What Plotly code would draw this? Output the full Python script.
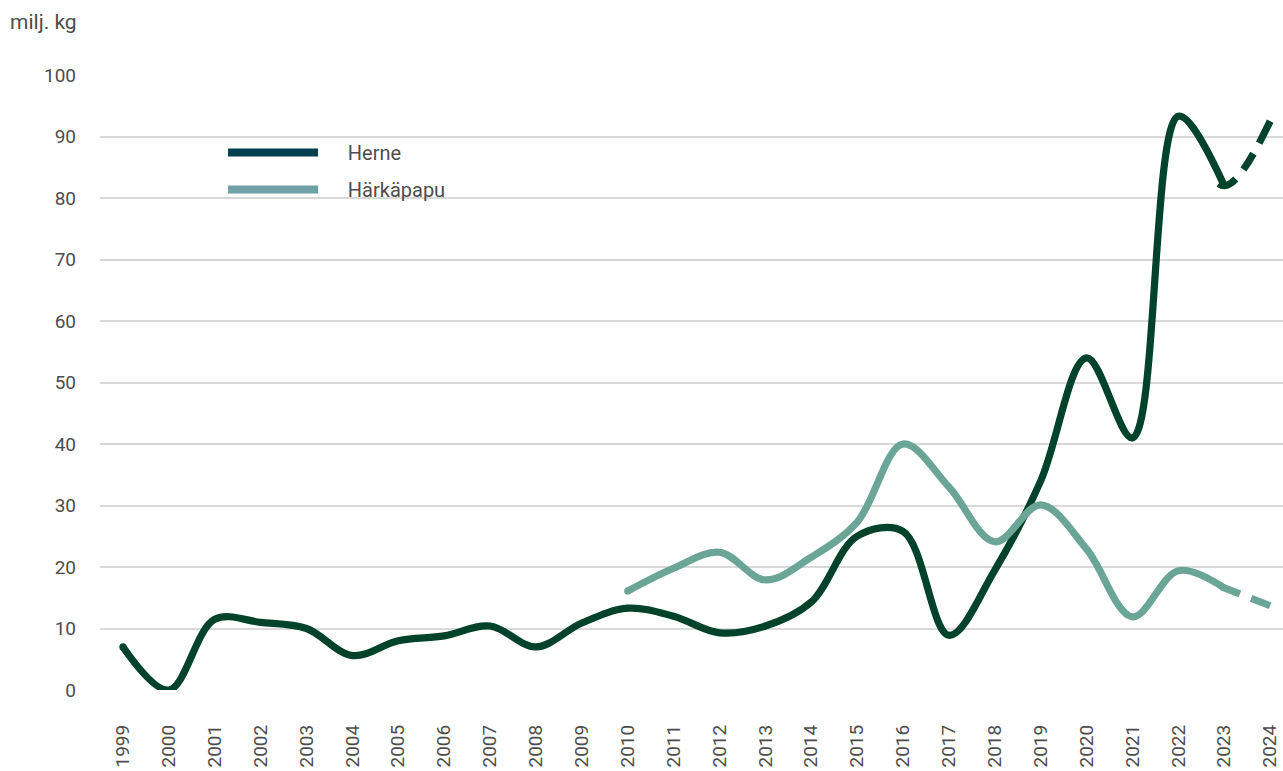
import plotly.graph_objects as go

years = list(range(1999, 2025))
herne = [7.0, 0.0, 11.5, 11.0, 10.0, 5.6, 8.0, 8.8, 10.4, 7.0, 10.9, 13.3, 12.0, 9.3, 10.4, 14.3,
         25.0, 25.8, 8.9, 19.5, 34.0, 54.0, 41.0, 93.3, 82.0, 92.5]
hp_years = list(range(2010, 2025))
harkapapu = [16.1, 19.8, 22.4, 17.9, 21.6, 27.3, 40.0, 33.0, 24.1, 30.1, 22.9, 11.9, 19.4, 16.6, 13.7]
y_ticks = [0, 10, 20, 30, 40, 50, 60, 70, 80, 90, 100]
x_ticks = years
y_title = "milj. kg"
names = ["Herne", "Härkäpapu"]

C_HERNE = "#00422a"
C_HP = "#6ba596"
L_HERNE = "#003f4f"
L_HP = "#6fa0a8"
FONT = "Roboto"
TXT = "#4d4d4d"
LW = 7.2

# dash patterns: invisible run over the 2022-2023 part, then the dashed 2023-2024 part
herne_dash = "0px,79px,20px,12px,19px,12px,40px"
hp_dash = "0px,46px,20px,12px,40px"

fig = go.Figure()

fig.add_trace(go.Scatter(x=years[-3:], y=herne[-3:], mode="lines",
                         line=dict(color=C_HERNE, width=LW, shape="spline", dash=herne_dash),
                         showlegend=False, hoverinfo="skip"))
fig.add_trace(go.Scatter(x=years[:-1], y=herne[:-1], mode="lines", line=dict(color=C_HERNE, width=LW, shape="spline"),
                         showlegend=False, hoverinfo="skip"))
fig.add_trace(go.Scatter(x=hp_years[-3:], y=harkapapu[-3:], mode="lines",
                         line=dict(color=C_HP, width=LW, shape="spline", dash=hp_dash),
                         showlegend=False, hoverinfo="skip"))
fig.add_trace(go.Scatter(x=hp_years[:-1], y=harkapapu[:-1], mode="lines", line=dict(color=C_HP, width=LW, shape="spline"),
                         showlegend=False, hoverinfo="skip"))
# round caps at line starts
fig.add_trace(go.Scatter(x=[years[0]], y=[herne[0]], mode="markers", marker=dict(color=C_HERNE, size=LW),
                         showlegend=False, hoverinfo="skip"))
fig.add_trace(go.Scatter(x=[hp_years[0]], y=[harkapapu[0]], mode="markers", marker=dict(color=C_HP, size=LW),
                         showlegend=False, hoverinfo="skip"))

pad = "\u00a0" * 5
fig.add_trace(go.Scatter(x=[None], y=[None], mode="lines", name=pad + names[0], legendgroup="a",
                         line=dict(color=L_HERNE, width=8)))
fig.add_trace(go.Scatter(x=[None], y=[None], mode="lines", name=pad + names[1], legendgroup="b",
                         line=dict(color=L_HP, width=8)))

# white box behind the legend
fig.add_shape(type="rect", xref="paper", yref="paper", x0=0.0609, x1=0.3466, y0=0.784, y1=0.914,
              fillcolor="white", line=dict(width=0), layer="between")

fig.add_annotation(text=y_title, xref="paper", yref="paper", x=-0.078, y=1.086, xanchor="left", yanchor="middle",
                   showarrow=False, font=dict(family=FONT, size=21, color=TXT))

fig.update_layout(
    width=1283, height=771,
    margin=dict(l=100, r=0, t=75, b=81),
    paper_bgcolor="white", plot_bgcolor="white",
    font=dict(family=FONT, size=19, color=TXT),
    legend=dict(x=0.104, y=0.9057, xanchor="left", yanchor="top", bgcolor="rgba(0,0,0,0)",
                itemwidth=90, font=dict(family=FONT, size=20, color=TXT),
                tracegroupgap=8, borderwidth=0),
    xaxis=dict(range=[1998.5, 2024.28], tickmode="array", tickvals=x_ticks, ticktext=[str(v) for v in x_ticks],
               tickangle=-90, showgrid=False, zeroline=False, showline=False, ticks="", ticklabelstandoff=30),
    yaxis=dict(range=[0, 100], tickmode="array", tickvals=y_ticks, showgrid=True, gridcolor="#d9d9d9", gridwidth=1.5,
               zeroline=False, showline=False, ticks="", ticklabelstandoff=23),
)

fig.write_html("out.html", config={"displayModeBar": False},
               post_script="document.body.style.margin='0px';")
